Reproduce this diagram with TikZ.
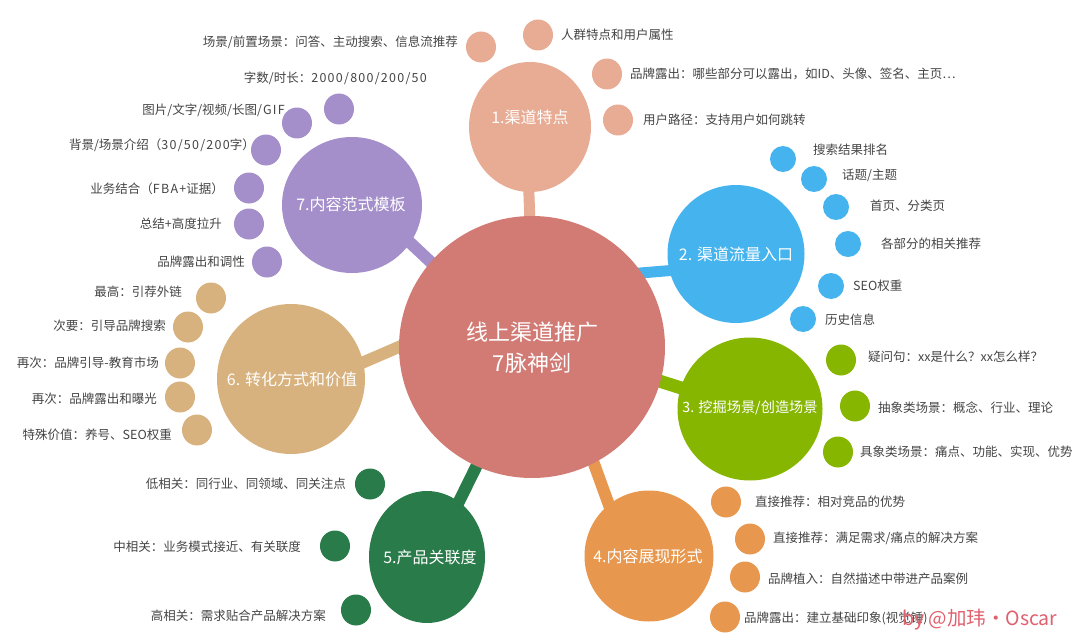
\documentclass[tikz,border=0pt]{standalone}
\usepackage{fontspec}
\setmainfont{Noto Sans CJK SC}
\usetikzlibrary{shapes.geometric,backgrounds}
\definecolor{mainc}{HTML}{D27B75}
\definecolor{chanc}{HTML}{E8AB93}
\definecolor{flowc}{HTML}{45B3EE}
\definecolor{scenec}{HTML}{86B600}
\definecolor{showc}{HTML}{E8984E}
\definecolor{prodc}{HTML}{2A7B4A}
\definecolor{convc}{HTML}{D8B27E}
\definecolor{tplc}{HTML}{A48FCB}
\definecolor{labelc}{HTML}{444444}
\definecolor{markc}{HTML}{E0606E}
\newcommand{\wide}[1]{{\addfontfeature{LetterSpace=10}#1}}
\tikzset{
    blob/.style={ellipse,inner sep=0pt},
    dot/.style={blob,minimum width=30pt,minimum height=31pt},
    dotb/.style={blob,minimum width=26pt,minimum height=26pt},
    hubtext/.style={text=white,font=\fontsize{16}{18}\selectfont},
    lbl/.style={text=labelc,inner sep=0pt,font=\fontsize{12.5}{14}\selectfont},
    lblr/.style={lbl,anchor=west},
    lbll/.style={lbl,anchor=east},
    link/.style={line width=#1,line cap=butt,shorten <=-4pt,shorten >=-4pt},
}
\begin{document}
\begin{tikzpicture}[x=1pt,y=-1pt]
    \useasboundingbox (0,0) rectangle (1080,642);
    \node[blob,fill=mainc,minimum width=266pt,minimum height=262pt] (main) at (532,347) {};
    \node[text=white,align=center,font=\fontsize{22}{31}\selectfont] (maint) at (532,348) {线上渠道推广\\7脉神剑};
    % 1
    \node[blob,fill=chanc,minimum width=122pt,minimum height=130pt] (chan) at (530,127) {};
    \node[hubtext] (chant) at (530,117) {1.渠道特点};
    \node[dot,fill=chanc] (chan1) at (481,47) {};
    \node[lbll] (chan1t) at (458,42) {场景/前置场景：问答、主动搜索、信息流推荐};
    \node[dot,fill=chanc] (chan2) at (538,35) {};
    \node[lblr] (chan2t) at (561,35) {人群特点和用户属性};
    \node[dot,fill=chanc] (chan3) at (607,74) {};
    \node[lblr] (chan3t) at (630,74) {品牌露出：哪些部分可以露出，如ID、头像、签名、主页…};
    \node[dot,fill=chanc] (chan4) at (618,120) {};
    \node[lblr] (chan4t) at (643,120) {用户路径：支持用户如何跳转};
    % 2
    \node[blob,fill=flowc,minimum width=137pt,minimum height=138pt] (flow) at (736,254) {};
    \node[hubtext] (flowt) at (736,254) {2. 渠道流量入口};
    \node[dotb,fill=flowc] (flow1) at (783,159) {};
    \node[lblr] (flow1t) at (813,150) {搜索结果排名};
    \node[dotb,fill=flowc] (flow2) at (814,179) {};
    \node[lblr] (flow2t) at (842,175) {话题/主题};
    \node[dotb,fill=flowc] (flow3) at (836,207) {};
    \node[lblr] (flow3t) at (870,206) {首页、分类页};
    \node[dotb,fill=flowc] (flow4) at (848,244) {};
    \node[lblr] (flow4t) at (881,244) {各部分的相关推荐};
    \node[dotb,fill=flowc] (flow5) at (831,286) {};
    \node[lblr] (flow5t) at (853,286) {SEO权重};
    \node[dotb,fill=flowc] (flow6) at (803,319) {};
    \node[lblr] (flow6t) at (825,320) {历史信息};
    % 3
    \node[blob,fill=scenec,minimum width=145pt,minimum height=143pt] (scene) at (750,409) {};
    \node[hubtext,font=\fontsize{14.2}{18}\selectfont] (scenet) at (750,408) {3. 挖掘场景/创造场景};
    \node[dot,fill=scenec] (scene1) at (841,360) {};
    \node[lblr] (scene1t) at (868,357) {疑问句：xx是什么？xx怎么样？};
    \node[dot,fill=scenec] (scene2) at (855,406) {};
    \node[lblr] (scene2t) at (878,408) {抽象类场景：概念、行业、理论};
    \node[dot,fill=scenec] (scene3) at (838,452) {};
    \node[lblr] (scene3t) at (860,452) {具象类场景：痛点、功能、实现、优势};
    % 4
    \node[blob,fill=showc,minimum width=129pt,minimum height=131pt] (show) at (649,556) {};
    \node[hubtext] (showt) at (648,556) {4.内容展现形式};
    \node[dot,fill=showc] (show1) at (726,502) {};
    \node[lblr] (show1t) at (755,502) {直接推荐：相对竞品的优势};
    \node[dot,fill=showc] (show2) at (750,539) {};
    \node[lblr] (show2t) at (773,538) {直接推荐：满足需求/痛点的解决方案};
    \node[dot,fill=showc] (show3) at (745,577) {};
    \node[lblr] (show3t) at (768,579) {品牌植入：自然描述中带进产品案例};
    \node[dot,fill=showc] (show4) at (725,617) {};
    \node[lblr] (show4t) at (744,618) {品牌露出：建立基础印象(视觉锤)};
    % 5
    \node[blob,fill=prodc,minimum width=116pt,minimum height=132pt] (prod) at (427,557) {};
    \node[hubtext] (prodt) at (430,557) {5.产品关联度};
    \node[dot,fill=prodc] (prod1) at (370,484) {};
    \node[lbll] (prod1t) at (346,484) {低相关：同行业、同领域、同关注点};
    \node[dot,fill=prodc] (prod2) at (335,546) {};
    \node[lbll] (prod2t) at (301,547) {中相关：业务模式接近、有关联度};
    \node[dot,fill=prodc] (prod3) at (356,610) {};
    \node[lbll] (prod3t) at (326,616) {高相关：需求贴合产品解决方案};
    % 6
    \node[blob,fill=convc,minimum width=148pt,minimum height=150pt] (conv) at (291,379) {};
    \node[hubtext] (convt) at (292,379) {6. 转化方式和价值};
    \node[dot,fill=convc] (conv1) at (211,298) {};
    \node[lbll] (conv1t) at (182,292) {最高：引荐外链};
    \node[dot,fill=convc] (conv2) at (188,327) {};
    \node[lbll] (conv2t) at (166,326) {次要：引导品牌搜索};
    \node[dot,fill=convc] (conv3) at (180,363) {};
    \node[lbll] (conv3t) at (159,363) {再次：品牌引导-教育市场};
    \node[dot,fill=convc] (conv4) at (180,397) {};
    \node[lbll] (conv4t) at (157,399) {再次：品牌露出和曝光};
    \node[dot,fill=convc] (conv5) at (197,430) {};
    \node[lbll] (conv5t) at (172,435) {特殊价值：养号、SEO权重};
    % 7
    \node[blob,fill=tplc,minimum width=140pt,minimum height=136pt] (tpl) at (352,205) {};
    \node[hubtext] (tplt) at (351,204) {7.内容范式模板};
    \node[dot,fill=tplc] (tpl1) at (339,109) {};
    \node[lbll] (tpl1t) at (427,78) {字数\wide{/}时长：\wide{2000/800/200/50}};
    \node[dot,fill=tplc] (tpl2) at (297,123) {};
    \node[lbll] (tpl2t) at (285,110) {图片\wide{/}文字\wide{/}视频\wide{/}长图\wide{/GIF}};
    \node[dot,fill=tplc] (tpl3) at (266,150) {};
    \node[lbll] (tpl3t) at (255,145) {背景\wide{/}场景介绍（\wide{30/50/200}字）};
    \node[dot,fill=tplc] (tpl4) at (249,188) {};
    \node[lbll] (tpl4t) at (224,189) {业务结合（\wide{FBA+}证据）};
    \node[dot,fill=tplc] (tpl5) at (249,224) {};
    \node[lbll] (tpl5t) at (222,224) {总结+高度拉升};
    \node[dot,fill=tplc] (tpl6) at (267,262) {};
    \node[lbll] (tpl6t) at (245,262) {品牌露出和调性};
    \node[text=markc,anchor=west,inner sep=0pt,font=\fontsize{19.5}{22}\selectfont] (mark) at (902,620) {by @加玮·Oscar};
    % connectors
    \begin{scope}[on background layer]
        \draw[link=11pt,draw=chanc] (main.91.5) -- (chan.269);
        \draw[link=11pt,draw=flowc] (main.34) -- (flow.194);
        \draw[link=13pt,draw=scenec] (main.345) -- (scene.163);
        \draw[link=12pt,draw=showc] (main.298) -- (show.128);
        \draw[link=12pt,draw=prodc] (main.245) -- (prod.60);
        \draw[link=12pt,draw=convc] (main.180) -- (conv.13);
        \draw[link=12pt,draw=tplc] (main.140) -- (tpl.327);
    \end{scope}
\end{tikzpicture}
\end{document}
